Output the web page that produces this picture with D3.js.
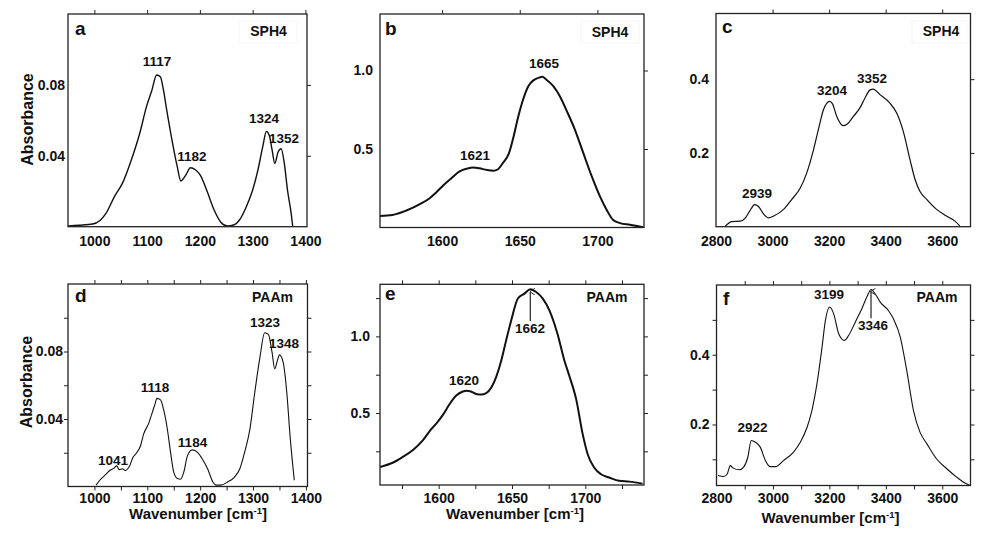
<!DOCTYPE html>
<html><head><meta charset="utf-8">
<script src="https://cdn.jsdelivr.net/npm/d3@7/dist/d3.min.js"></script>
<style>
body{margin:0;background:#fff}
svg{display:block}
text{font-family:"Liberation Sans",Arial,sans-serif;font-weight:bold;fill:#111}
</style>
</head><body>
<svg id="chart" width="988" height="539"></svg>
<script>
// ---------- data (wavenumber, absorbance) ----------
const specA = [[949,0.0004],[971,0.0008],[997,0.0015],[1010,0.0034],[1022,0.0075],[1038,0.017],[1054,0.025],[1070,0.0376],[1086,0.0527],[1099,0.068],[1109,0.077],[1118,0.0856],[1125,0.0846],[1131,0.077],[1137,0.066],[1147,0.049],[1157,0.034],[1164,0.0258],[1173,0.029],[1182,0.0333],[1192,0.032],[1201,0.029],[1214,0.0197],[1227,0.0094],[1240,0.0024],[1252,0.0004],[1265,0.0011],[1275,0.0038],[1288,0.0113],[1300,0.0207],[1310,0.032],[1319,0.045],[1326,0.0537],[1332,0.051],[1337,0.043],[1342,0.0357],[1348,0.042],[1354,0.044],[1360,0.0357],[1366,0.0207],[1373,0.0075],[1376,0]];
const specB = [[1560,0.074],[1568,0.080],[1577,0.108],[1586,0.150],[1592,0.186],[1596,0.222],[1601,0.271],[1606,0.314],[1611,0.356],[1616,0.375],[1620,0.383],[1624,0.377],[1629,0.366],[1633,0.362],[1636,0.371],[1639,0.409],[1643,0.472],[1646,0.578],[1649,0.705],[1652,0.811],[1655.5,0.900],[1659,0.939],[1662,0.953],[1664.5,0.960],[1667,0.943],[1671.6,0.900],[1676,0.833],[1680,0.748],[1685.6,0.621],[1691,0.472],[1696,0.335],[1701.7,0.197],[1706,0.112],[1710,0.049],[1714.6,0.028],[1721,0.017],[1730,0.0]];
const specC = [[2833,0.002],[2856,0.014],[2886,0.015],[2904,0.024],[2919,0.042],[2937,0.060],[2951,0.054],[2968,0.035],[2986,0.024],[3004,0.029],[3039,0.047],[3068,0.074],[3098,0.105],[3121,0.146],[3145,0.209],[3162,0.263],[3180,0.317],[3202,0.340],[3212,0.333],[3227,0.299],[3250,0.274],[3262,0.277],[3286,0.299],[3309,0.322],[3327,0.349],[3345,0.371],[3356,0.373],[3380,0.358],[3415,0.335],[3439,0.308],[3462,0.259],[3486,0.182],[3504,0.128],[3521,0.096],[3545,0.074],[3580,0.047],[3615,0.029],[3645,0.015],[3662,0.002]];
const specD = [[1003,0.0008],[1010,0.0037],[1023,0.0076],[1029,0.0095],[1037,0.0109],[1042,0.0122],[1047,0.0100],[1053,0.0105],[1058,0.0095],[1066,0.0118],[1073,0.0173],[1080,0.020],[1087,0.024],[1093,0.031],[1103,0.0377],[1109,0.0435],[1115,0.0493],[1118,0.0522],[1125,0.0513],[1131,0.0454],[1138,0.0338],[1144,0.0202],[1150,0.0085],[1157,0.0047],[1163,0.0043],[1169,0.0085],[1176,0.0183],[1185,0.0217],[1195,0.0202],[1204,0.0163],[1214,0.0105],[1224,0.0027],[1230,0.0008],[1239,0.0008],[1252,0.0027],[1265,0.0056],[1275,0.0105],[1284,0.0202],[1294,0.0338],[1303,0.0551],[1313,0.0765],[1322,0.0911],[1329,0.0901],[1336,0.0794],[1341,0.0697],[1346,0.0746],[1350,0.078],[1357,0.0736],[1364,0.0551],[1370,0.030],[1378,0.0037]];
const specE = [[1560,0.148],[1569,0.177],[1575,0.210],[1582.5,0.258],[1589,0.319],[1594,0.384],[1598.5,0.432],[1603,0.489],[1607.5,0.559],[1612,0.614],[1616.5,0.640],[1619,0.646],[1622,0.640],[1625.6,0.624],[1629,0.620],[1632.4,0.629],[1636,0.668],[1639.3,0.738],[1642.7,0.843],[1646,0.974],[1649.5,1.105],[1654,1.247],[1658.5,1.279],[1662.5,1.308],[1666.5,1.290],[1671,1.247],[1675.5,1.170],[1681,1.017],[1685.7,0.843],[1689,0.745],[1693.7,0.592],[1698.2,0.362],[1701.6,0.231],[1706,0.144],[1710.7,0.100],[1716.3,0.079],[1723,0.057],[1730,0.052],[1739,0.039]];
const specF = [[2805,0.0536],[2826,0.0507],[2838,0.058],[2849,0.082],[2858,0.0756],[2882,0.070],[2896,0.0775],[2911,0.106],[2923,0.154],[2938,0.149],[2955,0.135],[2973,0.097],[2991,0.079],[3009,0.079],[3038,0.097],[3073,0.121],[3097,0.149],[3121,0.192],[3138,0.240],[3156,0.317],[3174,0.422],[3186,0.499],[3201,0.537],[3215,0.518],[3233,0.460],[3253,0.441],[3268,0.455],[3292,0.494],[3315,0.532],[3333,0.566],[3348,0.587],[3362,0.575],[3380,0.551],[3409,0.527],[3427,0.503],[3451,0.451],[3474,0.355],[3498,0.240],[3521,0.178],[3545,0.145],[3580,0.101],[3616,0.073],[3651,0.049],[3680,0.032],[3698,0.025]];

// ---------- tick labels ----------
const xLabelsA = [1000,1100,1200,1300,1400];
const yLabelsA = [0.04,0.08];
const xLabelsB = [1600,1650,1700];
const yLabelsB = [0.5,1.0];
const xLabelsC = [2800,3000,3200,3400,3600];
const yLabelsC = [0.2,0.4];
const xLabelsD = [1000,1100,1200,1300,1400];
const yLabelsD = [0.04,0.08];
const xLabelsE = [1600,1650,1700];
const yLabelsE = [0.5,1.0];
const xLabelsF = [2800,3000,3200,3400,3600];
const yLabelsF = [0.2,0.4];
// tick mark positions
const xMarksD = [1000,1050,1100,1150,1200,1250,1300,1350,1400];
const yMarksD = [0.02,0.04,0.06,0.08,0.10];
const xMarksE = [1575,1600,1625,1650,1675,1700,1725];
const yMarksE = [0.25,0.5,0.75,1.0,1.25];
const xMarksF = [2900,3000,3100,3200,3300,3400,3500,3600];
const yMarksF = [0.1,0.2,0.3,0.4,0.5];

// ---------- peak annotations [text, wavenumber, absorbance] ----------
const peaksA = [["1117",1118.7,0.0907],["1182",1185,0.0371],["1324",1321.5,0.0585],["1352",1359.4,0.0472]];
const peaksB = [["1621",1621.2,0.43],["1665",1665.6,1.016]];
const peaksC = [["2939",2945,0.0778],["3204",3210,0.357],["3352",3351.6,0.3895]];
const peaksD = [["1041",1035,0.0127],["1118",1114.6,0.0562],["1184",1185.5,0.0236],["1323",1322.6,0.0947],["1348",1358.5,0.0821]];
const peaksE = [["1620",1617.3,0.683],["1662",1662.3,1.022]];
const peaksF = [["2922",2927.6,0.178],["3199",3198.6,0.56],["3346",3354.6,0.471]];
const arrowE = [1662.5,1.305,1.10];
const arrowF = [3347.5,0.587,0.505];

const panels = [
  {letter:"a", tag:"SPH4", data:specA, xDom:[950,1403], yDom:[0,0.12], box:[68,14,307,226.7],
   xLab:xLabelsA, yLab:yLabelsA, yFmt:".2f", topMarks:xLabelsA, rightMarks:yLabelsA, botMarks:[], leftMarks:[],
   peaks:peaksA, sw:1.4, xPad:19, yPad:3, tagBox:[239,21,58,22], letterPos:[75,35], tagPos:[268.5,36]},
  {letter:"b", tag:"SPH4", data:specB, xDom:[1560,1730], yDom:[0,1.36], box:[380,14,644,227.5],
   xLab:xLabelsB, yLab:yLabelsB, yFmt:".1f", topMarks:xLabelsB, rightMarks:yLabelsB, botMarks:[], leftMarks:[],
   peaks:peaksB, sw:2, xPad:18.5, yPad:7, tagBox:[581,21,58,22], letterPos:[385,35], tagPos:[610,37]},
  {letter:"c", tag:"SPH4", data:specC, xDom:[2800,3700], yDom:[0,0.578], box:[716,13.5,970.5,226.7],
   xLab:xLabelsC, yLab:yLabelsC, yFmt:".1f", topMarks:[3000,3200,3400,3600], rightMarks:yLabelsC, botMarks:[], leftMarks:[],
   peaks:peaksC, sw:1.2, xPad:19, yPad:7, tagBox:[912,21,56,22], letterPos:[722,33], tagPos:[941,36]},
  {letter:"d", tag:"PAAm", data:specD, xDom:[950,1403], yDom:[0,0.12], box:[68,284,307.5,486.5],
   xLab:xLabelsD, yLab:yLabelsD, yFmt:".2f", topMarks:xMarksD, rightMarks:yMarksD, botMarks:xMarksD, leftMarks:yMarksD,
   peaks:peaksD, sw:1.1, xPad:16.5, yPad:5, tagBox:null, letterPos:[75,302], tagPos:[272.5,302],
   xTitle:[198,519]},
  {letter:"e", tag:"PAAm", data:specE, xDom:[1560,1740], yDom:[0.03,1.34], box:[380,284.3,644,485],
   xLab:xLabelsE, yLab:yLabelsE, yFmt:".1f", topMarks:xMarksE, rightMarks:yMarksE, botMarks:xMarksE, leftMarks:yMarksE,
   peaks:peaksE, sw:2, xPad:18, yPad:10, tagBox:null, letterPos:[385,300], tagPos:[607,302],
   arrow:arrowE, xTitle:[515,519]},
  {letter:"f", tag:"PAAm", data:specF, xDom:[2800,3700], yDom:[0.025,0.6], box:[716.5,285,970.5,485.5],
   xLab:xLabelsF, yLab:yLabelsF, yFmt:".1f", topMarks:xMarksF, rightMarks:yMarksF, botMarks:xMarksF, leftMarks:yMarksF,
   peaks:peaksF, sw:1.1, xPad:17.5, yPad:7, tagBox:null, letterPos:[723,305], tagPos:[937,302],
   arrow:arrowF, xTitle:[830.5,523]}
];

const svg = d3.select("#chart");
svg.append("rect").attr("width",988).attr("height",539).attr("fill","#fff");
const defs = svg.append("defs");
defs.append("marker").attr("id","ah").attr("viewBox","0 0 10 10").attr("refX",5).attr("refY",1)
  .attr("markerWidth",5).attr("markerHeight",5).attr("orient","auto-start-reverse")
  .append("path").attr("d","M0,8 L5,0 L10,8").attr("fill","none").attr("stroke","#222").attr("stroke-width",1.5);

const TICK = 4;
panels.forEach(p => {
  const [x0,y0,x1,y1] = p.box;
  const x = d3.scaleLinear().domain(p.xDom).range([x0,x1]);
  const y = d3.scaleLinear().domain(p.yDom).range([y1,y0]);
  const g = svg.append("g");

  // tick marks
  const markAxis = (axis, vals, tx, ty) => {
    if (!vals.length) return;
    const a = g.append("g").attr("transform",`translate(${tx},${ty})`)
      .call(axis.tickValues(vals).tickSize(TICK).tickFormat(""));
    a.select(".domain").remove();
    a.selectAll("line").attr("stroke","#222").attr("stroke-width",1);
  };
  markAxis(d3.axisTop(x), p.topMarks, 0, y0);
  markAxis(d3.axisBottom(x), p.botMarks, 0, y1);
  markAxis(d3.axisRight(y), p.rightMarks, x1, 0);
  markAxis(d3.axisLeft(y), p.leftMarks, x0, 0);

  // tick labels
  const xl = g.append("g").attr("transform",`translate(0,${y1})`)
    .call(d3.axisBottom(x).tickValues(p.xLab).tickSize(0).tickPadding(p.xPad - 9.9).tickFormat(d3.format("d")));
  xl.select(".domain").remove();
  xl.selectAll("text").attr("font-size",14).attr("font-family",null).attr("fill","#111");
  const yl = g.append("g").attr("transform",`translate(${x0},0)`)
    .call(d3.axisLeft(y).tickValues(p.yLab).tickSize(0).tickPadding(p.yPad).tickFormat(d3.format(p.yFmt)));
  yl.select(".domain").remove();
  yl.selectAll("text").attr("font-size",14).attr("font-family",null).attr("fill","#111");

  // curve
  const clipId = "clip" + p.letter;
  defs.append("clipPath").attr("id",clipId).append("rect")
    .attr("x",x0).attr("y",y0).attr("width",x1-x0).attr("height",y1-y0);
  g.append("path").datum(p.data)
    .attr("clip-path",`url(#${clipId})`)
    .attr("fill","none").attr("stroke","#111").attr("stroke-width",p.sw).attr("stroke-linejoin","round")
    .attr("d", d3.line().x(d=>x(d[0])).y(d=>y(d[1])).curve(d3.curveMonotoneX));

  // frame
  g.append("rect").attr("x",x0).attr("y",y0).attr("width",x1-x0).attr("height",y1-y0)
    .attr("fill","none").attr("stroke","#222").attr("stroke-width",1.3);

  // tag box + tag
  if (p.tagBox) {
    g.append("rect").attr("x",p.tagBox[0]).attr("y",p.tagBox[1]).attr("width",p.tagBox[2]).attr("height",p.tagBox[3])
      .attr("fill","#fff").attr("stroke","#f6f6f6").attr("stroke-width",1);
  }
  g.append("text").attr("x",p.tagPos[0]).attr("y",p.tagPos[1]).attr("text-anchor","middle")
    .attr("font-size",14).text(p.tag);
  g.append("text").attr("x",p.letterPos[0]).attr("y",p.letterPos[1])
    .attr("font-size",19).text(p.letter);

  // peak labels
  p.peaks.forEach(([t,px,py]) => {
    g.append("text").attr("x",x(px)).attr("y",y(py)).attr("text-anchor","middle")
      .attr("font-size",13.5).text(t);
  });
  if (p.arrow) {
    const [ax, ytop, ybot] = p.arrow;
    g.append("line").attr("x1",x(ax)).attr("x2",x(ax)).attr("y1",y(ybot)).attr("y2",y(ytop)+2)
      .attr("stroke","#333").attr("stroke-width",1.3).attr("marker-end","url(#ah)");
  }
  if (p.xTitle) {
    const t = g.append("text").attr("x",p.xTitle[0]).attr("y",p.xTitle[1]).attr("text-anchor","middle").attr("font-size",15);
    t.append("tspan").text("Wavenumber [cm");
    t.append("tspan").attr("font-size",9.5).attr("dy",-5.5).text("-1");
    t.append("tspan").attr("dy",5.5).text("]");
  }
});

// y-axis titles
[[27.5,119.5],[26,382]].forEach(([cx,cy]) => {
  svg.append("text").attr("transform",`translate(${cx + 5.5},${cy}) rotate(-90)`)
    .attr("text-anchor","middle").attr("font-size",16).text("Absorbance");
});
</script>
</body></html>
